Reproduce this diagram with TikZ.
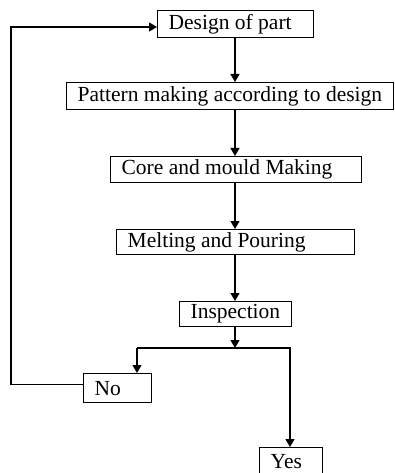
\documentclass[tikz,border=0pt]{standalone}
\usepackage{fontspec}
\setmainfont{Liberation Serif}
\usetikzlibrary{arrows.meta}
\tikzset{
  box/.style={draw, line width=1.3pt, inner xsep=11pt, inner ysep=0pt, font=\fontsize{21.5pt}{22pt}\selectfont, anchor=north west},
  flow/.style={line width=1.3pt, -{Triangle[length=8pt,width=9pt]}}
}
\newcommand{\bx}[6]{\node[box, minimum height=#5pt] (#1) at (#2,#3) {\makebox[\dimexpr#4pt-22pt\relax][l]{#6}};}
\begin{document}
\begin{tikzpicture}[x=1pt,y=-1pt]
\useasboundingbox (0,0) rectangle (395,473);
\bx{design}{157}{10}{156}{27}{Design of part}
\bx{pattern}{66}{82}{327}{27}{Pattern making according to design}
\bx{core}{110}{156}{251}{26}{Core and mould Making}
\bx{melt}{116}{229}{238}{25}{Melting and Pouring}
\bx{insp}{179}{301}{112}{25}{Inspection}
\bx{no}{83}{373}{68}{29}{No}
\bx{yes}{259}{447}{63}{27}{Yes}
\coordinate (split) at (235,348);
\coordinate (ltop) at (137,348);
\coordinate (rtop) at (290,348);
\coordinate (fbl) at (11,384.5);
\coordinate (fbt) at (11,27);
\draw[flow] (235,37) -- (235,82);
\draw[flow] (235,109) -- (235,156);
\draw[flow] (235,182) -- (235,229);
\draw[flow] (235,254) -- (235,301);
\draw[flow] (235,326) -- (split);
\draw[flow] (ltop) -- (ltop |- no.north);
\draw[flow] (ltop) -- (rtop) -- (rtop |- yes.north);
\draw[flow] (no.west |- fbl) -- (fbl) -- (fbt) -- (design.west |- fbt);
\end{tikzpicture}
\end{document}
